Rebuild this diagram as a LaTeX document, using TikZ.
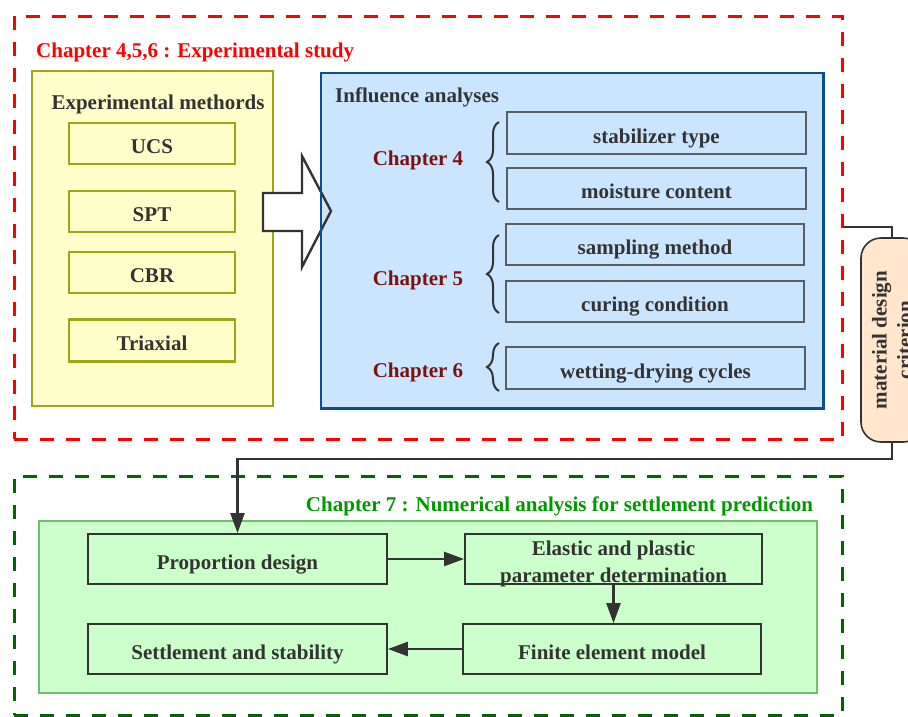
\documentclass[tikz,border=0pt]{standalone}
\usepackage{fontspec}
\setmainfont{Liberation Serif}
\usetikzlibrary{arrows.meta,decorations.pathreplacing,calc}
\definecolor{txt}{HTML}{333333}
\definecolor{olivel}{HTML}{A3A31A}
\definecolor{yfill}{HTML}{FFFFCC}
\definecolor{bfill}{HTML}{CCE5FF}
\definecolor{bline}{HTML}{0F4C96}
\definecolor{binner}{HTML}{5A5E63}
\definecolor{gfill}{HTML}{CCFFCC}
\definecolor{gline}{HTML}{6FBF6F}
\definecolor{gdash}{HTML}{006600}
\definecolor{gtitle}{HTML}{009900}
\definecolor{chapred}{HTML}{7A1212}
\definecolor{pfill}{HTML}{FFE6CC}
\begin{document}
\begin{tikzpicture}[x=1pt,y=-1pt,
  every node/.style={font=\fontsize{21}{25}\selectfont\bfseries, text=txt, inner sep=0pt},
  reddash/.style={draw=red, line width=3pt, dash pattern=on 14pt off 12pt},
  greendash/.style={draw=gdash, line width=3pt, dash pattern=on 14pt off 12pt},
  boxtext/.style={text height=20pt, text depth=0pt},
  ybox/.style={boxtext, draw=olivel, fill=yfill, line width=2.6pt},
  bbox/.style={boxtext, fill=bfill, draw=binner, line width=1.8pt},
  gbox/.style={boxtext, fill=gfill, draw=txt, line width=1.8pt},
  conn/.style={draw=txt, line width=2.4pt},
  tip/.style={-{Triangle[length=20pt,width=14pt]}},
  chap/.style={text=chapred, anchor=base},
  brc/.style={draw=txt, line width=2pt, decorate, decoration={brace, amplitude=12pt, aspect=0.5}}
]
\useasboundingbox (0,0) rectangle (908,716);
\clip (0,0) rectangle (908,716);

% experimental study region
\node[reddash, minimum width=828.5pt, minimum height=423pt] (exp) at (428.25,227.5) {};
\node[anchor=base west, text=red] (t1) at (36,57) {Chapter 4,5,6 : Experimental study};

% experimental methods
\node[draw=olivel, fill=yfill, line width=2.6pt, minimum width=241pt, minimum height=335pt] (expm) at (152.5,238.5) {};
\node[anchor=base] (expmT) at (158,109) {Experimental methords};
\node[ybox, minimum width=166pt, minimum height=41pt] (ucs) at (152,143.5) {UCS};
\node[ybox, minimum width=166pt, minimum height=41pt] (spt) at (152,211.5) {SPT};
\node[ybox, minimum width=166pt, minimum height=41pt] (cbr) at (152,272.5) {CBR};
\node[ybox, minimum width=166pt, minimum height=42pt] (tri) at (152,340.5) {Triaxial};

% influence analyses
\node[fill=bfill, minimum width=502pt, minimum height=335pt] (infl) at (572,240.5) {};
\begin{scope}
  \clip (0,0) rectangle (321,716);
  \fill[white] (263,193) -- (302,193) -- (302,156) -- (331,211) -- (302,267) -- (302,231) -- (263,231) -- cycle;
\end{scope}
\draw[draw=txt, line width=2.4pt, line join=miter] (263,193) -- (302,193) -- (302,156) -- (331,211) -- (302,267) -- (302,231) -- (263,231) -- cycle;
\draw[draw=bline, line width=2.6pt] (infl.north west) rectangle (infl.south east);
\node[anchor=base west] (inflT) at (335,102) {Influence analyses};

\node[chap] (ch4) at (418,165) {Chapter 4};
\node[chap] (ch5) at (418,285) {Chapter 5};
\node[chap] (ch6) at (418,377) {Chapter 6};

\node[bbox, minimum width=299pt, minimum height=42pt] (stab) at (656.5,133) {stabilizer type};
\node[bbox, minimum width=299pt, minimum height=41pt] (moist) at (656.5,188.5) {moisture content};
\node[bbox, minimum width=298pt, minimum height=41pt] (samp) at (655,244.5) {sampling method};
\node[bbox, minimum width=298pt, minimum height=41pt] (cur) at (655,301.5) {curing condition};
\node[bbox, minimum width=299pt, minimum height=42pt] (wet) at (655.5,368) {wetting-drying cycles};

\draw[brc] (499,202) -- (499,122);
\draw[brc] (499,313) -- (499,235);
\draw[brc] (499,391) -- (499,343);

% material design criterion
\node[draw=txt, fill=pfill, line width=1.6pt, rounded corners=20pt, minimum width=62pt, minimum height=204pt] (pill) at (892,340) {};
\node[rotate=90, align=center, font=\fontsize{21}{25}\selectfont\bfseries] (pillT) at (892,340) {material design\\criterion};

% numerical analysis region
\node[greendash, minimum width=828pt, minimum height=239pt] (num) at (428,595.5) {};
\node[text=gtitle, anchor=base] (t7) at (559.5,511) {Chapter 7 : Numerical analysis for settlement prediction};
\node[fill=gfill, draw=gline, line width=1.6pt, minimum width=778pt, minimum height=172pt] (numbox) at (428,607) {};

\node[gbox, minimum width=299pt, minimum height=50pt] (prop) at (237.5,559) {Proportion design};
\node[gbox, minimum width=297pt, minimum height=50pt] (elas) at (613.5,559) {};
\node[align=center, font=\fontsize{21}{27}\selectfont\bfseries] (elasT) at (613.5,563.5) {Elastic and plastic\\parameter determination};
\node[gbox, minimum width=298pt, minimum height=50pt] (fin) at (612,649) {Finite element model};
\node[gbox, minimum width=299pt, minimum height=50pt] (sett) at (237.5,649) {Settlement and stability};

% connectors
\coordinate (c1) at (842.5,227);
\coordinate (c2) at (237.5,459);
\draw[conn, line width=2pt] (c1) -| (pill.north);
\draw[conn, tip] (pill.south) |- (c2) -- (prop.north);
\draw[conn, tip] (prop) -- (elas);
\draw[conn, tip] (elas.south) -- (elas.south |- fin.north);
\draw[conn, tip] (fin) -- (sett);
\end{tikzpicture}
\end{document}
